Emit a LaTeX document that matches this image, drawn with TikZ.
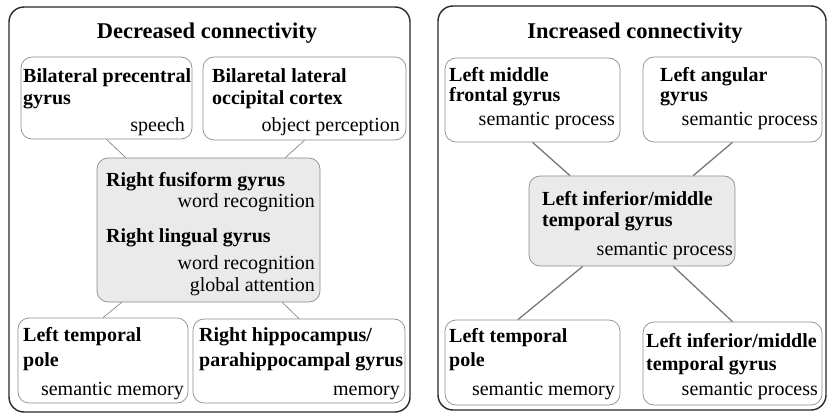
\documentclass[tikz,border=0pt]{standalone}
\usepackage{fontspec}
\setmainfont{Liberation Serif}
\usetikzlibrary{calc}
\definecolor{boxline}{RGB}{140,140,140}
\definecolor{boxfill}{RGB}{234,234,234}
\definecolor{linkgray}{RGB}{120,120,120}
\definecolor{outerline}{RGB}{40,40,40}
\tikzset{
  panel/.style={draw=outerline, line width=1.4pt, rounded corners=15pt},
  box/.style={draw=boxline, line width=0.7pt, rounded corners=11pt, inner sep=0pt},
  hubbox/.style={box, fill=boxfill},
  hd/.style={anchor=base west, inner sep=0pt, font=\fontsize{20}{22}\selectfont\bfseries},
  fn/.style={anchor=base east, inner sep=0pt, font=\fontsize{20}{22}\selectfont},
  ttl/.style={anchor=base, inner sep=0pt, font=\fontsize{22.5}{26}\selectfont\bfseries},
  thinlink/.style={draw=linkgray, line width=0.6pt},
  thicklink/.style={draw=linkgray, line width=1.3pt}
}
\begin{document}
\begin{tikzpicture}[x=1pt,y=-1pt]
\useasboundingbox (0,0) rectangle (829,414);
% panels
\draw[panel] (9,7) rectangle (410,412);
\draw[panel] (438,6) rectangle (826,410);
\node[ttl] (ttlL) at (207,39) {Decreased connectivity};
\node[ttl] (ttlR) at (635,39) {Increased connectivity};
% left panel boxes
\node[box, minimum width=171, minimum height=82] (lb1) at (106.5,98) {};
\node[box, minimum width=203, minimum height=83] (lb2) at (304.5,98.5) {};
\node[hubbox, minimum width=223, minimum height=144] (lc) at (208.5,230) {};
\node[box, minimum width=170, minimum height=85] (lb3) at (103,360.5) {};
\node[box, minimum width=212, minimum height=84] (lb4) at (299,361) {};
% right panel boxes
\node[box, minimum width=175, minimum height=84] (rb1) at (532.5,100) {};
\node[box, minimum width=179, minimum height=85] (rb2) at (732.5,99.5) {};
\node[hubbox, minimum width=206, minimum height=90] (rc) at (632,221) {};
\node[box, minimum width=175, minimum height=85] (rb3) at (532.5,362.5) {};
\node[box, minimum width=179, minimum height=83] (rb4) at (732.5,363.5) {};
% left connectors
\draw[thinlink] (lb1.south) -- ($(lc.north west)!0.13!(lc.north east)$);
\draw[thinlink] (lb2.south) -- ($(lc.north west)!0.843!(lc.north east)$);
\draw[thinlink] ($(lc.south west)!0.112!(lc.south east)$) -- (lb3.north);
\draw[thinlink] ($(lc.south west)!0.83!(lc.south east)$) -- (lb4.north);
% right connectors
\draw[thicklink] (rb1.south) -- ($(rc.north west)!0.2!(rc.north east)$);
\draw[thicklink] (rb2.south) -- ($(rc.north west)!0.796!(rc.north east)$);
\draw[thicklink] ($(rc.south west)!0.262!(rc.south east)$) -- ($(rb3.north west)!0.417!(rb3.north east)$);
\draw[thicklink] ($(rc.south west)!0.70!(rc.south east)$) -- (rb4.north);
% left texts
\node[hd] (t1a) at (23,83) {Bilateral precentral};
\node[hd] (t1b) at (23,105) {gyrus};
\node[fn] (t1c) at (185,132) {speech};
\node[hd] (t2a) at (212,83) {Bilaretal lateral};
\node[hd] (t2b) at (212,105) {occipital cortex};
\node[fn] (t2c) at (400,132) {object perception};
\node[hd] (tca) at (106,186) {Right fusiform gyrus};
\node[fn] (tcb) at (315,207) {word recognition};
\node[hd] (tcc) at (106,242) {Right lingual gyrus};
\node[fn] (tcd) at (315,269) {word recognition};
\node[fn] (tce) at (315,291) {global attention};
\node[hd] (t3a) at (23,341) {Left temporal};
\node[hd] (t3b) at (23,366) {pole};
\node[fn] (t3c) at (184,395) {semantic memory};
\node[hd] (t4a) at (199,341) {Right hippocampus/};
\node[hd] (t4b) at (199,366) {parahippocampal gyrus};
\node[fn] (t4c) at (400,395) {memory};
% right texts
\node[hd] (r1a) at (449,82) {Left middle};
\node[hd] (r1b) at (449,102) {frontal gyrus};
\node[fn] (r1c) at (615,126) {semantic process};
\node[hd] (r2a) at (660,82) {Left angular};
\node[hd] (r2b) at (660,102) {gyrus};
\node[fn] (r2c) at (818,126) {semantic process};
\node[hd] (rca) at (542,205) {Left inferior/middle};
\node[hd] (rcb) at (542,226) {temporal gyrus};
\node[fn] (rcc) at (733,255) {semantic process};
\node[hd] (r3a) at (449,342) {Left temporal};
\node[hd] (r3b) at (449,366) {pole};
\node[fn] (r3c) at (615,395) {semantic memory};
\node[hd] (r4a) at (646,347) {Left inferior/middle};
\node[hd] (r4b) at (646,370) {temporal gyrus};
\node[fn] (r4c) at (818,395) {semantic process};
\end{tikzpicture}
\end{document}
